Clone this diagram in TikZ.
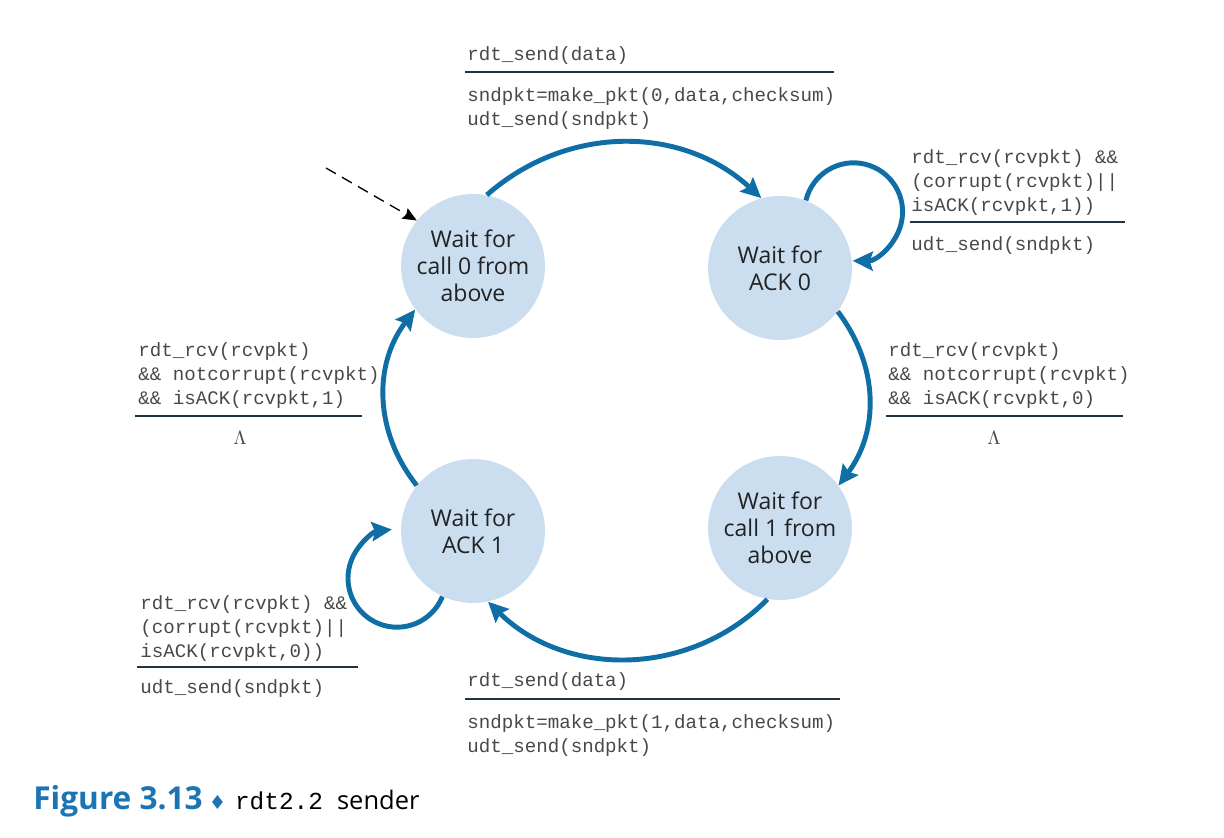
\documentclass[tikz,border=0pt]{standalone}
\usepackage{fontspec}
\setmainfont{Open Sans}
\setmonofont{Liberation Mono}
\newfontfamily\symfont{DejaVu Sans}
\usetikzlibrary{arrows.meta}
\definecolor{statefill}{HTML}{CADEEF}
\definecolor{statetext}{HTML}{222222}
\definecolor{arrowblue}{HTML}{0F6EA5}
\definecolor{codetext}{HTML}{484848}
\definecolor{rulecolor}{HTML}{1E3441}
\definecolor{capblue}{HTML}{1B75B5}
\begin{document}
\begin{tikzpicture}[x=0.02cm,y=0.02cm,
  every node/.style={inner sep=0pt},
  state/.style={circle,fill=statefill,minimum size=2.88cm,align=center,
    font=\fontsize{13.1}{15.3}\selectfont,text=statetext},
  trans/.style={line width=2.8pt,draw=arrowblue,
    -{Stealth[length=0.4cm,width=0.38cm,inset=0.06cm]}},
  code/.style={anchor=base west,align=left,
    font=\ttfamily\fontsize{10.9}{13.9}\selectfont,text=codetext},
  rule/.style={draw=rulecolor,line width=0.85pt},
  lam/.style={font=\fontsize{11}{13}\selectfont,text=codetext}]
  \useasboundingbox (0,0) rectangle (1224,838);

  % states
  \node[state] (w0) at (473,572) {Wait for\\call 0 from\\above};
  \node[state] (a0) at (780,570) {Wait for\\ACK 0};
  \node[state] (w1) at (780,310) {Wait for\\call 1 from\\above};
  \node[state] (a1) at (473,307) {Wait for\\ACK 1};

  % initial state
  \coordinate (init) at (326,670);
  \draw[black,line width=0.75pt,dash pattern=on 6.5pt off 4pt,
    -{Stealth[length=0.28cm,width=0.24cm,inset=0.04cm]}] (init) -- (w0.141);

  % transitions
  \draw[trans] (w0.79) to[bend left=42] (a0.105);
  \draw[trans] (a0.-37) to[bend left=37] (w1.36);
  \draw[trans] (w1.-100) to[bend left=45] (a1.-78);
  \draw[trans] (a1.141) to[bend left=38] (w0.217);
  \draw[trans] (a0.69) arc[start angle=166.6,end angle=-91,radius=49];
  \draw[trans] (a1.245) arc[start angle=-22,end angle=-264,radius=49];

  % w0 -> a0
  \node[code] (e1) at (467,777) {rdt\_send(data)};
  \coordinate (r1a) at (465,766); \coordinate (r1b) at (834,766);
  \draw[rule] (r1a) -- (r1b);
  \node[code] (c1) at (467,712) {sndpkt=make\_pkt(0,data,checksum)\\udt\_send(sndpkt)};

  % a0 -> a0
  \node[code] (e2) at (911,626) {rdt\_rcv(rcvpkt) \&\&\\(corrupt(rcvpkt)||\\isACK(rcvpkt,1))};
  \coordinate (r2a) at (910,616); \coordinate (r2b) at (1125,616);
  \draw[rule] (r2a) -- (r2b);
  \node[code] (c2) at (911,587) {udt\_send(sndpkt)};

  % a0 -> w1
  \node[code] (e3) at (888,433) {rdt\_rcv(rcvpkt)\\\&\& notcorrupt(rcvpkt)\\\&\& isACK(rcvpkt,0)};
  \coordinate (r3a) at (886,422); \coordinate (r3b) at (1123,422);
  \draw[rule] (r3a) -- (r3b);
  \node[lam] (l3) at (994,400) {$\Lambda$};

  % a1 -> w0
  \node[code] (e4) at (138,433) {rdt\_rcv(rcvpkt)\\\&\& notcorrupt(rcvpkt)\\\&\& isACK(rcvpkt,1)};
  \coordinate (r4a) at (135,422); \coordinate (r4b) at (362,422);
  \draw[rule] (r4a) -- (r4b);
  \node[lam] (l4) at (240,400) {$\Lambda$};

  % a1 -> a1
  \node[code] (e5) at (140,180) {rdt\_rcv(rcvpkt) \&\&\\(corrupt(rcvpkt)||\\isACK(rcvpkt,0))};
  \coordinate (r5a) at (137,171); \coordinate (r5b) at (358,171);
  \draw[rule] (r5a) -- (r5b);
  \node[code] (c5) at (140,144) {udt\_send(sndpkt)};

  % w1 -> a1
  \node[code] (e6) at (467,151) {rdt\_send(data)};
  \coordinate (r6a) at (465,139); \coordinate (r6b) at (840,139);
  \draw[rule] (r6a) -- (r6b);
  \node[code] (c6) at (467,85) {sndpkt=make\_pkt(1,data,checksum)\\udt\_send(sndpkt)};

  % caption
  \node[anchor=base west] (cap) at (33,28)
    {{\color{capblue}\bfseries\fontsize{18}{21}\selectfont Figure 3.13}\hspace{3.5pt}%
     {\color{capblue}\symfont\fontsize{11}{13}\selectfont ♦}\hspace{5pt}%
     {\ttfamily\fontsize{13.9}{16}\selectfont rdt2.2}\hspace{8pt}%
     {\fontsize{14.5}{17}\selectfont sender}};
\end{tikzpicture}
\end{document}
